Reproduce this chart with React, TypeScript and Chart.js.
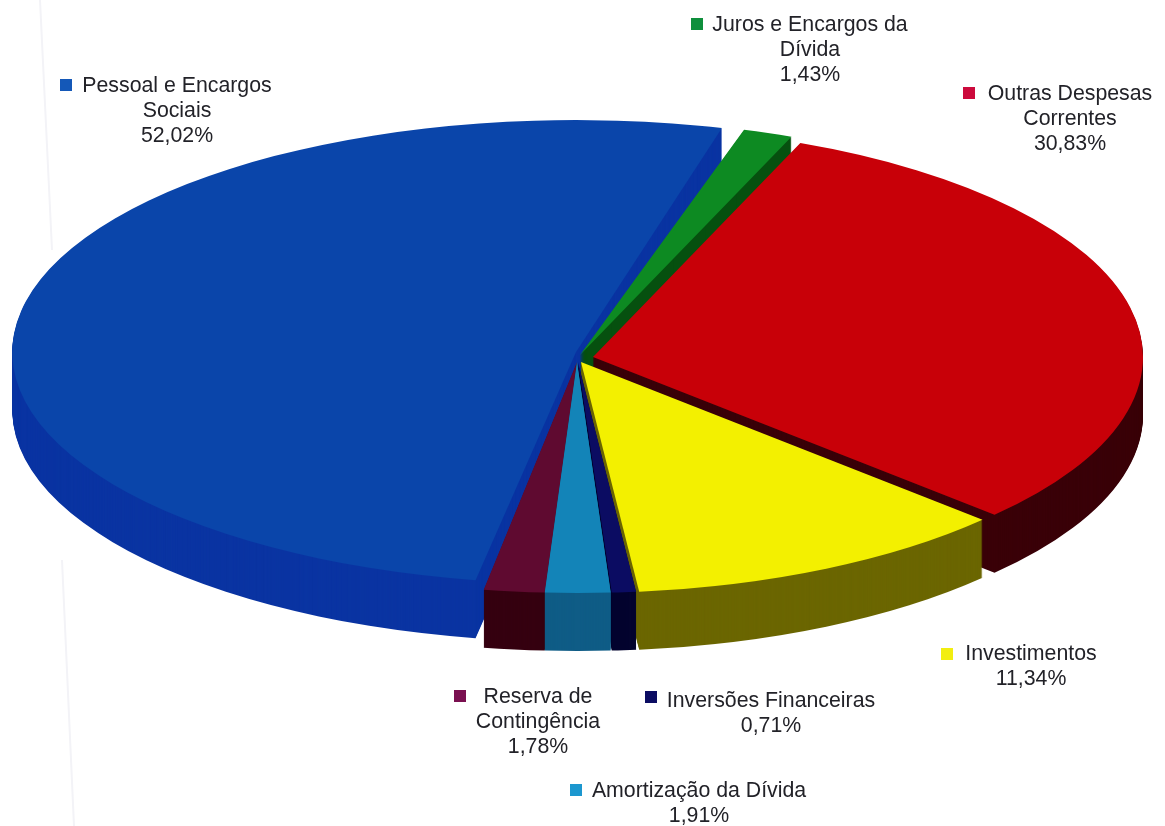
import React, { useEffect, useRef } from "react";
import { Chart, registerables } from "chart.js";

Chart.register(...registerables);

const categories = [
  "Juros e Encargos da Dívida",
  "Outras Despesas Correntes",
  "Investimentos",
  "Inversões Financeiras",
  "Amortização da Dívida",
  "Reserva de Contingência",
  "Pessoal e Encargos Sociais",
];
const values = [1.43, 30.83, 11.34, 0.71, 1.91, 1.78, 52.02];
const labelLines = [
  ["Juros e Encargos da", "Dívida"],
  ["Outras Despesas", "Correntes"],
  ["Investimentos"],
  ["Inversões Financeiras"],
  ["Amortização da Dívida"],
  ["Reserva de", "Contingência"],
  ["Pessoal e Encargos", "Sociais"],
];

const topColors = ["#0d8a22", "#c80008", "#f3f000", "#0b0c62", "#1384b8", "#5f0a30", "#0a45aa"];
const wallColors = ["#06500f", "#3a0008", "#6b6600", "#03032e", "#0f5c86", "#350010", "#0a34a2"];
const keyColors = ["#0f8f3c", "#cc0a3c", "#f2ee10", "#0b0c62", "#1c97cf", "#7a1050", "#1458b8"];

// layout of the tilted pie
const WIDTH = 1165;
const HEIGHT = 826;
const BASE_RADIUS = 400;
const RX = 550;
const RY = 231;
const DEPTH = 58;
const ROTATION = 17;
const apexX = [580, 593, 581, 578, 577, 577, 576];
const apexY = [355, 357, 362, 362, 362, 362, 352];
const radiusScaleX = [1.02, 1, 1, 1, 1, 1, 1.025];
const radiusScaleY = [1.02, 1, 1, 1, 1, 1, 1.004];
const trimStartDeg = [0, 0, 0, 0, 0, 0, 0.5];
const trimEndDeg = [0, 0, 0, 0, 0, 0, 2];
const wallOrder = [6, 0, 1, 2, 3, 5, 4];

// layout of the labels: centre of the text, first line's middle, key position
const labelX = [810, 1070, 1031, 771, 699, 538, 177];
const labelY = [25, 94, 654, 701, 791, 697, 86];
const keyX = [691, 963, 941, 645, 570, 454, 60];
const keyY = [18, 87, 648, 691, 784, 690, 79];
const LINE_HEIGHT = 25;
const KEY_SIZE = 12;

const formatPct = (v: number) => v.toFixed(2).replace(".", ",") + "%";

const pie3d = {
  id: "pie3d",
  beforeDraw(chart: any) {
    const ctx = chart.ctx;
    ctx.save();
    ctx.strokeStyle = "#f3f3f7";
    ctx.lineWidth = 2;
    ctx.beginPath();
    ctx.moveTo(40, 0);
    ctx.lineTo(52, 250);
    ctx.moveTo(62, 560);
    ctx.lineTo(74, 826);
    ctx.stroke();
    ctx.restore();
  },
  beforeDatasetsDraw(chart: any) {
    const ctx = chart.ctx;
    const arcs = chart.getDatasetMeta(0).data;
    const drawSlice = (i: number, depth: number, color: string) => {
      const el = arcs[i];
      const clone = Object.create(el);
      const start = el.startAngle + (trimStartDeg[i] * Math.PI) / 180;
      const end = el.endAngle - (trimEndDeg[i] * Math.PI) / 180;
      clone.x = 0;
      clone.y = 0;
      clone.startAngle = start;
      clone.endAngle = end;
      clone.circumference = end - start;
      clone.options = { ...el.options, backgroundColor: color, borderColor: color, borderWidth: 0 };
      ctx.save();
      ctx.translate(apexX[i], apexY[i] + depth);
      ctx.scale((RX * radiusScaleX[i]) / BASE_RADIUS, (RY * radiusScaleY[i]) / BASE_RADIUS);
      clone.draw(ctx);
      ctx.restore();
    };
    wallOrder.forEach((i) => {
      for (let d = DEPTH; d >= 1; d--) drawSlice(i, d, wallColors[i]);
    });
    wallOrder.forEach((i) => drawSlice(i, 0, topColors[i]));
    return false;
  },
  afterDraw(chart: any) {
    const ctx = chart.ctx;
    ctx.save();
    ctx.font = '21.3px "Liberation Sans", Arial, sans-serif';
    ctx.textAlign = "center";
    ctx.textBaseline = "middle";
    categories.forEach((_, i) => {
      const lines = [...labelLines[i], formatPct(values[i])];
      ctx.fillStyle = "#222228";
      lines.forEach((line, j) => ctx.fillText(line, labelX[i], labelY[i] + j * LINE_HEIGHT));
      ctx.fillStyle = keyColors[i];
      ctx.fillRect(keyX[i], keyY[i], KEY_SIZE, KEY_SIZE);
    });
    ctx.restore();
  },
};

export default function App() {
  const ref = useRef<HTMLCanvasElement>(null);
  useEffect(() => {
    const chart = new Chart(ref.current!, {
      type: "pie",
      data: {
        labels: categories,
        datasets: [{ data: values, backgroundColor: topColors, borderWidth: 0 }],
      },
      options: {
        animation: false,
        responsive: false,
        rotation: ROTATION,
        radius: BASE_RADIUS,
        layout: { padding: 0 },
        plugins: { legend: { display: false }, tooltip: { enabled: false } },
      },
      plugins: [pie3d],
    } as any);
    return () => chart.destroy();
  }, []);
  return (
    <div style={{ position: "fixed", left: 0, top: 0, width: WIDTH, height: HEIGHT, background: "#fff" }}>
      <canvas ref={ref} width={WIDTH} height={HEIGHT} style={{ display: "block" }} />
    </div>
  );
}
